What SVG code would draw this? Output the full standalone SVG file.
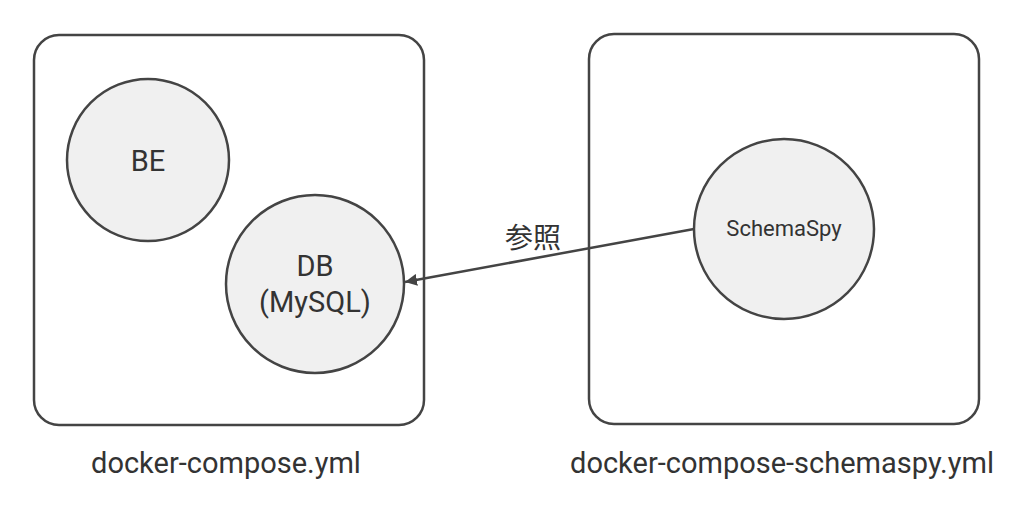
<svg xmlns="http://www.w3.org/2000/svg" width="1024" height="515" viewBox="0 0 1024 515">
<style>
.box{fill:#fff;stroke:#444;stroke-width:2.5}
.node{fill:#f0f0f0;stroke:#444;stroke-width:2.5}
text{font-family:Roboto,"Noto Sans CJK JP",sans-serif;fill:#333;text-anchor:middle}
.conn{stroke:#444;stroke-width:2.5;fill:none}
</style>
<defs>
<marker id="ah" markerWidth="12" markerHeight="12" refX="10" refY="5" orient="auto" markerUnits="userSpaceOnUse" viewBox="0 0 10 10">
<path d="M0,0 L10,5 L0,10 z" fill="#444"/>
</marker>
</defs>
<g id="compose">
<rect class="box" x="34" y="35" width="390" height="390" rx="25"/>
<text x="226" y="473" font-size="29">docker-compose.yml</text>
</g>
<g id="compose-schemaspy">
<rect class="box" x="589" y="34" width="390" height="390" rx="25"/>
<text x="782" y="473" font-size="29">docker-compose-schemaspy.yml</text>
</g>
<g id="be">
<circle class="node" cx="148" cy="160" r="81"/>
<text x="148" y="171" font-size="29">BE</text>
</g>
<g id="db">
<circle class="node" cx="315" cy="284" r="89"/>
<text x="315" y="276" font-size="29">DB</text>
<text x="315" y="312" font-size="29">(MySQL)</text>
</g>
<g id="schemaspy">
<circle class="node" cx="784" cy="229" r="90"/>
<text x="784" y="236" font-size="22">SchemaSpy</text>
</g>
<g id="connectors">
<line class="conn" x1="694" y1="229" x2="405" y2="282" marker-end="url(#ah)"/>
<text x="533" y="248" font-size="28">参照</text>
</g>
</svg>
